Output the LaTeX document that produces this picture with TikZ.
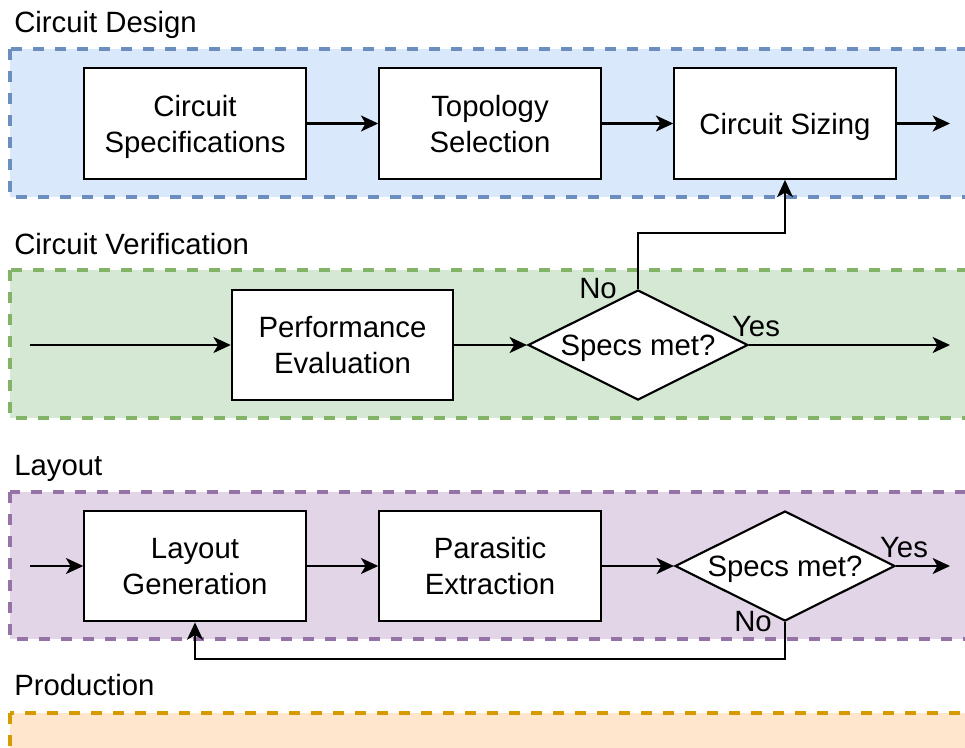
\documentclass[tikz,border=0pt]{standalone}
\usepackage{fontspec}
\setmainfont{Liberation Sans}
\usetikzlibrary{arrows.meta,shapes.geometric}
\definecolor{blueF}{HTML}{DAE8FC}\definecolor{blueS}{HTML}{6C8EBF}
\definecolor{greenF}{HTML}{D5E8D4}\definecolor{greenS}{HTML}{82B366}
\definecolor{purpF}{HTML}{E1D5E7}\definecolor{purpS}{HTML}{9673A6}
\definecolor{oranF}{HTML}{FFE6CC}\definecolor{oranS}{HTML}{D79B00}
\newcommand{\bigfont}{\fontsize{22}{27}\selectfont}
\tikzset{
  lane/.style={line width=2.3pt, dash pattern=on 8.25pt off 8.25pt},
  procbox/.style={draw=black, fill=white, line width=1.6pt, minimum width=166pt, minimum height=83pt, inner sep=0pt, align=center, text depth=0pt, font=\bigfont},
  decis/.style={diamond, draw=black, fill=white, line width=1.6pt, minimum width=165pt, minimum height=82.5pt, inner sep=0pt, text depth=0pt, font=\bigfont},
  lanetitle/.style={anchor=base west, inner sep=0pt, font=\bigfont},
  edgelbl/.style={anchor=base, inner sep=0pt, font=\bigfont},
  arr/.style={line width=1.6pt, -{Stealth[length=13pt, width=12pt, inset=3.5pt]}}
}
\begin{document}
\begin{tikzpicture}[x=0.75pt, y=-0.75pt]
\useasboundingbox (0,0) rectangle (965,747);
\clip (0,0) rectangle (965,747);
\fill[white] (0,0) rectangle (965,747);
% lanes
\draw[lane, draw=blueS, fill=blueF] (10,49) rectangle (990,197);
\draw[lane, draw=greenS, fill=greenF] (10,270) rectangle (990,418);
\draw[lane, draw=purpS, fill=purpF] (10,492) rectangle (990,639);
\draw[lane, draw=oranS, fill=oranF] (10,713) rectangle (990,780);
\node[lanetitle] (t1) at (14,32) {Circuit Design};
\node[lanetitle] (t2) at (14,254) {Circuit Verification};
\node[lanetitle] (t3) at (14,475) {Layout};
\node[lanetitle] (t4) at (14,695) {Production};
% design
\node[procbox] (spec) at (195,123.5) {Circuit\\Specifications};
\node[procbox] (topo) at (490,123.5) {Topology\\Selection};
\node[procbox] (size) at (785,123.5) {Circuit Sizing};
\coordinate (dout) at (950,123.5);
\draw[arr] (spec) -- (topo);
\draw[arr] (topo) -- (size);
\draw[arr] (size) -- (dout);
% verification
\coordinate (vin) at (30,345);
\node[procbox] (perf) at (342.5,345) {Performance\\Evaluation};
\node[decis] (d1) at (638,345) {\makebox[0pt]{Specs met?}};
\coordinate (vout) at (950,345);
\draw[arr] (vin) -- (perf);
\draw[arr] (perf) -- (d1);
\draw[arr] (d1.east) -- (vout);
\draw[arr] (d1.north) -- ++(0,-56) -| (size.south);
\node[edgelbl] (no1) at (598,298) {No};
\node[edgelbl] (yes1) at (756,336) {Yes};
% layout
\coordinate (lin) at (30,566);
\node[procbox] (lgen) at (195,566) {Layout\\Generation};
\node[procbox] (para) at (490,566) {Parasitic\\Extraction};
\node[decis] (d2) at (785,566) {\makebox[0pt]{Specs met?}};
\coordinate (lout) at (950,566);
\draw[arr] (lin) -- (lgen);
\draw[arr] (lgen) -- (para);
\draw[arr] (para) -- (d2);
\draw[arr] (d2.east) -- (lout);
\draw[arr] (d2.south) -- ++(0,37) -| (lgen.south);
\node[edgelbl] (yes2) at (904,557) {Yes};
\node[edgelbl] (no2) at (753,631) {No};
\end{tikzpicture}
\end{document}
